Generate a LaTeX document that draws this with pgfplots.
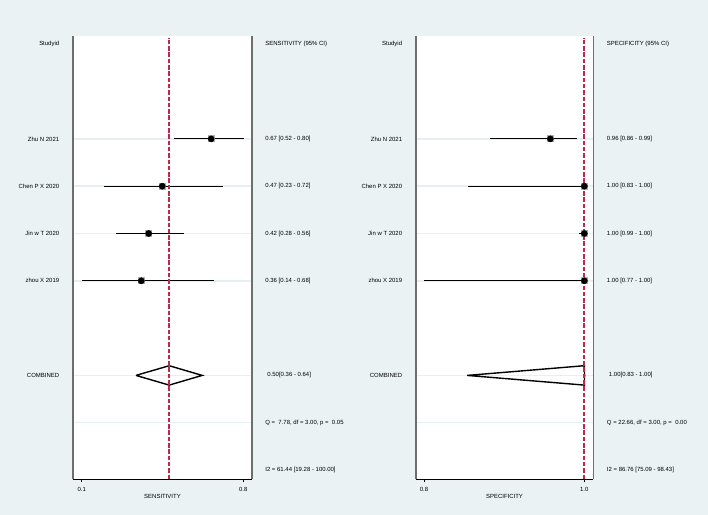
\documentclass[border=0pt]{standalone}
\usepackage{fontspec}
\setmainfont{Liberation Sans}
\usepackage{pgfplots}
\usepackage{pgfplotstable}
\pgfplotsset{compat=1.18}

\definecolor{bgcol}{RGB}{234,242,243}
\definecolor{rowcol}{RGB}{230,239,241}
\definecolor{refred}{RGB}{196,36,82}
\definecolor{sidecol}{RGB}{110,110,110}
\definecolor{boxgray}{RGB}{175,175,175}

% study estimates, rows counted downward (header = 0)
\pgfplotstableread{
y   est    lo     hi
-2  0.661  0.500  0.802
-3  0.449  0.197  0.713
-4  0.390  0.250  0.542
-5  0.358  0.100  0.673
}\sens
\pgfplotstableread{
y   est    lo     hi
-2  0.9576 0.882  0.9913
-3  1.000  0.855  1.000
-4  1.000  0.9938 1.000
-5  1.000  0.800  1.000
}\spec

\pgfplotsset{forest/.style={
  scale only axis, width=179bp, height=443bp,
  ymin=-9.19, ymax=0.175, ytick=\empty,
  axis line style={draw=none},
  tick align=outside, major tick length=3bp,
  xtick pos=lower,
  xtick style={black, line width=0.7bp},
  clip=false,
  axis background/.style={fill=white},
  ticklabel style={font=\fontsize{6}{7}\selectfont},
  xticklabel style={yshift=-2bp},
  /pgf/number format/assume math mode=true,
}}
\tikzset{txt/.style={font=\fontsize{6}{7}\selectfont, inner sep=0pt}}

% row guides and box sides; #1,#2 = xmin,xmax
\newcommand\panelframe[2]{%
  \pgfplotsinvokeforeach{2,3,4,5,7,8}{\draw[rowcol, line width=1.5bp] (axis cs:#1,-##1) -- (axis cs:#2,-##1);}
  \draw[draw=sidecol, line width=1.6bp] (rel axis cs:0,0) -- (rel axis cs:0,1);
  \draw[draw=sidecol, line width=1.6bp] (rel axis cs:1,0) -- (rel axis cs:1,1);
  \draw[black, line width=0.9bp] (rel axis cs:0,0) -- (rel axis cs:1,0);
}

\begin{document}
\begin{tikzpicture}
\fill[bgcol] (0,0) rectangle (708bp,-515bp);

% ---------------- sensitivity ----------------
\begin{axis}[forest, at={(73bp,-479bp)}, anchor=south west,
  xmin=0.062, xmax=0.838, xtick={0.1,0.8}, xticklabels={0.1,0.8}]
\panelframe{0.062}{0.838}
\addplot[draw=black, line width=1bp, only marks, mark=square*, mark size=3.0bp,
  mark options={fill=boxgray, draw=boxgray},
  error bars/.cd, x dir=both, x explicit, error mark=none,
  error bar style={black, line width=1bp}]
  table[x=est, y=y, x error plus expr=\thisrow{hi}-\thisrow{est},
        x error minus expr=\thisrow{est}-\thisrow{lo}] {\sens};
\addplot[only marks, mark=*, mark size=3.1bp, mark options={fill=black, draw=black}]
  table[x=est, y=y] {\sens};
\addplot[draw=black, line width=1.4bp] coordinates
  {(0.335,-7) (0.479,-6.795) (0.622,-7) (0.479,-7.205) (0.335,-7)};
\addplot[draw=refred, color=refred, line width=1.6bp, dash pattern=on 4.5bp off 1.8bp] coordinates
  {(0.479,-9.19) (0.479,0.14)};

\node[txt, anchor=east] at (axis cs:0.003,0) {Studyid};
\node[txt, anchor=east] at (axis cs:0.003,-2) {Zhu N 2021};
\node[txt, anchor=east] at (axis cs:0.003,-3) {Chen P X 2020};
\node[txt, anchor=east] at (axis cs:0.003,-4) {Jin w T 2020};
\node[txt, anchor=east] at (axis cs:0.003,-5) {zhou X 2019};
\node[txt, anchor=east] at (axis cs:0.003,-7) {COMBINED};
\node[txt, anchor=west] at (axis cs:0.895,0) {SENSITIVITY (95\% CI)};
\node[txt, anchor=west] at (axis cs:0.895,-2) {0.67 [0.52 - 0.80]};
\node[txt, anchor=west] at (axis cs:0.895,-3) {0.47 [0.23 - 0.72]};
\node[txt, anchor=west] at (axis cs:0.895,-4) {0.42 [0.28 - 0.56]};
\node[txt, anchor=west] at (axis cs:0.895,-5) {0.36 [0.14 - 0.68]};
\node[txt, anchor=west] at (axis cs:0.904,-7) {0.50[0.36 - 0.64]};
\node[txt, anchor=west] at (axis cs:0.895,-8) {Q =\ \ 7.78, df = 3.00, p =\ \ 0.05};
\node[txt, anchor=west] at (axis cs:0.895,-9) {I2 = 61.44 [19.28 - 100.00]};
\node[txt] at ([yshift=-17.7bp]rel axis cs:0.5,0) {SENSITIVITY};
\end{axis}

% ---------------- specificity ----------------
\begin{axis}[forest, at={(415.7bp,-479bp)}, anchor=south west, width=177.6bp,
  xmin=0.7896, xmax=1.0112, xtick={0.8,1.0}, xticklabels={0.8,1.0}]
\panelframe{0.7896}{1.0112}
\addplot[draw=black, line width=1bp, only marks, mark=square*, mark size=3.0bp,
  mark options={fill=boxgray, draw=boxgray},
  error bars/.cd, x dir=both, x explicit, error mark=none,
  error bar style={black, line width=1bp}]
  table[x=est, y=y, x error plus expr=\thisrow{hi}-\thisrow{est},
        x error minus expr=\thisrow{est}-\thisrow{lo}] {\spec};
\addplot[only marks, mark=*, mark size=3.1bp, mark options={fill=black, draw=black}]
  table[x=est, y=y] {\spec};
\addplot[draw=black, line width=1.4bp] coordinates
  {(0.8539,-7) (1.0,-6.795) (1.0003,-7) (1.0,-7.205) (0.8539,-7)};
\addplot[draw=refred, color=refred, line width=1.6bp, dash pattern=on 4.5bp off 1.8bp] coordinates
  {(0.9993,-9.19) (0.9993,0.14)};

\node[txt, anchor=east] at (axis cs:0.7729,0) {Studyid};
\node[txt, anchor=east] at (axis cs:0.7729,-2) {Zhu N 2021};
\node[txt, anchor=east] at (axis cs:0.7729,-3) {Chen P X 2020};
\node[txt, anchor=east] at (axis cs:0.7729,-4) {Jin w T 2020};
\node[txt, anchor=east] at (axis cs:0.7729,-5) {zhou X 2019};
\node[txt, anchor=east] at (axis cs:0.7729,-7) {COMBINED};
\node[txt, anchor=west] at (axis cs:1.028,0) {SPECIFICITY (95\% CI)};
\node[txt, anchor=west] at (axis cs:1.028,-2) {0.96 [0.86 - 0.99]};
\node[txt, anchor=west] at (axis cs:1.028,-3) {1.00 [0.83 - 1.00]};
\node[txt, anchor=west] at (axis cs:1.028,-4) {1.00 [0.99 - 1.00]};
\node[txt, anchor=west] at (axis cs:1.028,-5) {1.00 [0.77 - 1.00]};
\node[txt, anchor=west] at (axis cs:1.0305,-7) {1.00[0.83 - 1.00]};
\node[txt, anchor=west] at (axis cs:1.028,-8) {Q = 22.66, df = 3.00, p =\ \ 0.00};
\node[txt, anchor=west] at (axis cs:1.028,-9) {I2 = 86.76 [75.09 - 98.43]};
\node[txt] at ([yshift=-17.7bp]rel axis cs:0.5,0) {SPECIFICITY};
\end{axis}
\end{tikzpicture}
\end{document}
